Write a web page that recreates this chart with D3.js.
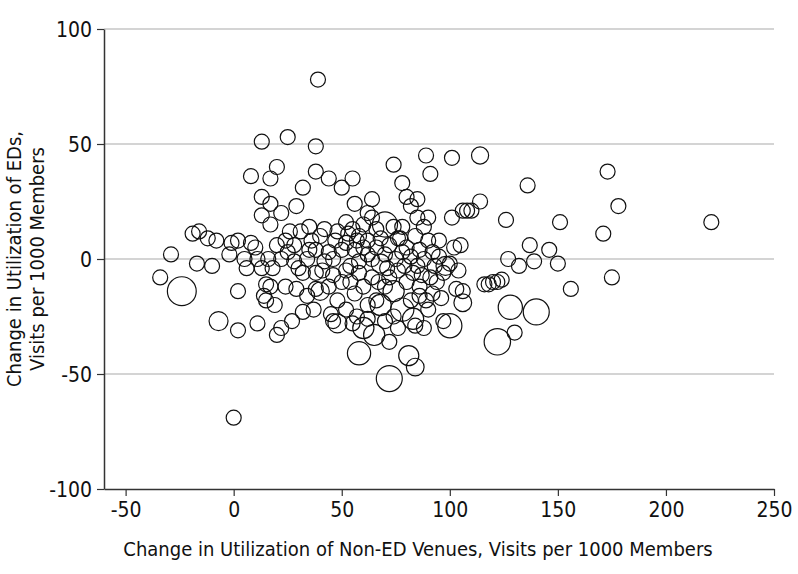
<!DOCTYPE html>
<html>
<head>
<meta charset="utf-8">
<script src="https://cdn.jsdelivr.net/npm/d3@7"></script>
<style>
  body { margin: 0; background: #fff; }
  text { font-family: "DejaVu Sans Condensed", "Liberation Sans Narrow", sans-serif; fill: #111; }
  .axis-title { font-size: 20px; }
</style>
</head>
<body>
<script>
// Define SVG area dimensions
var svgWidth = 798;
var svgHeight = 574;

var margin = { top: 29, right: 24, bottom: 85, left: 104 };
var chartWidth = svgWidth - margin.left - margin.right;
var chartHeight = svgHeight - margin.top - margin.bottom;

// axis ticks
var xTicks = [-50, 0, 50, 100, 150, 200, 250];
var yTicks = [-100, -50, 0, 50, 100];
var yGrid = [-50, 0, 50, 100];

// points as [non-ED change, ED change, relative size]
var outlierPoints = [
  [39, 78, 1], [0, -69, 1], [221, 16, 1], [173, 38, 1], [178, 23, 1],
  [171, 11, 1], [175, -8, 1], [156, -13, 1], [151, 16, 1], [150, -2, 1],
  [146, 4, 1], [139, -1, 1], [137, 6, 1], [136, 32, 1], [132, -3, 1],
  [130, -32, 1], [126, 17, 1], [127, 0, 1], [128, -21, 2.6], [140, -23, 3],
  [122, -36, 3.1], [114, 45, 1.3], [114, 25, 1], [106, 21, 1], [110, 21, 1],
  [108, 21, 1], [101, 44, 1], [101, 18, 1], [105, 6, 1], [103, -13, 1],
  [106, -19, 1.4], [106, -14, 1], [97, -27, 1], [100, -29, 2.6], [81, -42, 1.8],
  [84, -47, 1.4], [72, -52, 3], [58, -41, 2.4], [89, 45, 1], [91, 37, 1],
  [74, 41, 1], [78, 33, 1], [85, 26, 1], [82, 23, 1], [80, 27, 1],
  [64, 26, 1], [55, 35, 1], [56, 24, 1], [62, 20, 1], [44, 35, 1],
  [50, 31, 1], [38, 49, 1], [38, 38, 1], [32, 31, 1], [29, 23, 1],
  [25, 53, 1], [13, 51, 1], [20, 40, 1], [8, 36, 1], [17, 35, 1],
  [13, 27, 1], [17, 24, 1], [22, 20, 1], [13, 19, 1], [17, 15, 1]
];

var tailCluster = [
  [116, -11, 1], [118, -11, 1], [120, -10, 1], [122, -10, 1], [124, -9, 1]
];

var leftPoints = [
  [-34, -8, 1], [-24, -14, 3.7], [-29, 2, 1], [-19, 11, 1], [-16, 12, 1],
  [-12, 9, 1], [-8, 8, 1], [-17, -2, 1], [-10, -3, 1], [-7, -27, 1.6],
  [2, -31, 1], [-2, 2, 1], [-1, 7, 1], [2, 8, 1], [2, -14, 1],
  [5, 0, 1], [8, 7, 1], [10, 5, 1], [11, 0, 1], [13, -4, 1],
  [15, -11, 1], [14, -16, 1], [11, -28, 1], [20, -33, 1], [22, -30, 1],
  [27, -27, 1], [29, -13, 1], [24, -12, 1], [17, -12, 1], [20, 6, 1],
  [24, 8, 1], [28, 6, 1], [22, 0, 1], [18, -4, 1], [25, 3, 1],
  [31, 12, 1], [28, -1, 1], [32, -6, 1], [35, 4, 1], [34, -16, 1],
  [32, -23, 1], [37, -22, 1], [38, -13, 1], [40, -14, 1.5], [16, 0, 1],
  [6, -4, 1], [15, -18, 1], [19, -20, 1], [26, 12, 1], [35, 14, 1]
];

var centerPoints = [
  [45, -24, 1], [48, -28, 1.6], [46, -27, 1], [52, -22, 1], [55, -28, 1],
  [57, -25, 1], [60, -30, 2], [62, -26, 1], [65, -33, 2], [68, -20, 2],
  [70, -27, 1], [72, -36, 1], [74, -25, 1], [78, -22, 2.4], [76, -30, 1],
  [83, -26, 2], [84, -29, 1], [86, -16, 1], [89, -18, 1], [92, -15, 1],
  [94, -10, 1], [97, -6, 1], [98, -3, 1.6], [95, 1, 1], [92, 3, 1],
  [90, 8, 1], [95, 8, 1], [87, -7, 1], [85, -3, 1], [82, 1, 1],
  [80, 5, 1], [77, 9, 1], [74, 14, 1], [78, 14, 1], [84, 10, 1],
  [88, 14, 1], [70, 15, 2.8], [66, 13, 1], [62, 8, 1], [58, 10, 1],
  [55, 13, 1], [52, 7, 1], [50, 4, 1], [47, 8, 1], [44, 3, 1],
  [42, -1, 1], [41, -5, 1], [46, -7, 1], [50, -10, 1], [54, -3, 1],
  [58, -1, 1], [62, 2, 1], [66, 5, 1], [68, -2, 1.6], [64, -8, 1],
  [60, -12, 1], [56, -15, 1], [72, -8, 1], [76, -5, 1], [80, -10, 1],
  [74, -14, 2], [70, -12, 1], [66, -18, 1], [62, -20, 1], [78, 3, 1],
  [72, 6, 1], [85, 18, 1], [90, 18, 1], [60, 15, 1], [64, 18, 1],
  [52, 16, 1], [48, 12, 1], [40, 10, 1], [38, 4, 1], [42, 13, 1],
  [36, 8, 1], [30, -4, 1], [34, 0, 1], [38, -6, 1], [44, -12, 1],
  [48, -18, 1], [54, -10, 1], [58, -6, 1], [86, -12, 1], [90, -22, 1],
  [82, -18, 1], [100, -2, 1], [102, 5, 1], [96, -17, 1], [88, -30, 1],
  [104, -5, 1], [93, -3, 1], [86, 4, 1], [70, 2, 1], [56, 4, 1]
];

var extraCenter = [
  [64, 0, 1], [60, 5, 1], [68, 9, 1], [75, 0, 1], [79, -3, 1],
  [83, -6, 1], [71, -4, 1], [57, 8, 1], [52, -5, 1], [46, 0, 1],
  [67, -10, 1], [88, 0, 1], [91, -8, 1], [76, 9, 1], [53, 11, 1]
];

var allPoints = outlierPoints.concat(tailCluster, leftPoints, centerPoints, extraCenter);

var svg = d3.select("body")
  .append("svg")
  .attr("width", svgWidth)
  .attr("height", svgHeight);

var chartGroup = svg.append("g")
  .attr("transform", `translate(${margin.left}, ${margin.top})`);

var xScale = d3.scaleLinear()
  .domain([-60, 250])
  .range([0, chartWidth]);

var yScale = d3.scaleLinear()
  .domain([-100, 100])
  .range([chartHeight, 0]);

var rScale = d3.scaleSqrt()
  .domain([0, 4])
  .range([0, 15]);

// horizontal grid
chartGroup.selectAll(".grid")
  .data(yGrid)
  .enter()
  .append("line")
  .attr("x1", 0)
  .attr("x2", chartWidth)
  .attr("y1", d => yScale(d))
  .attr("y2", d => yScale(d))
  .attr("stroke", "#d4d4d4")
  .attr("stroke-width", 2);

// axes (plain hyphen for negatives, like the original)
var plain = d => String(d);
var bottomAxis = d3.axisBottom(xScale).tickValues(xTicks).tickFormat(plain)
  .tickSize(7).tickSizeOuter(0).tickPadding(6);
var leftAxis = d3.axisLeft(yScale).tickValues(yTicks).tickFormat(plain)
  .tickSize(7).tickSizeOuter(0).tickPadding(5);

var xAxisG = chartGroup.append("g")
  .attr("transform", `translate(0, ${chartHeight})`)
  .call(bottomAxis);

var yAxisG = chartGroup.append("g")
  .call(leftAxis);

[xAxisG, yAxisG].forEach(g => {
  g.attr("font-size", 21).attr("font-family", null);
  g.select(".domain").attr("stroke", "#333").attr("stroke-width", 1.5);
  g.selectAll(".tick line").attr("stroke", "#333").attr("stroke-width", 1.2);
  g.selectAll(".tick text").attr("fill", "#111").style("font-size", "21px");
});
yAxisG.selectAll(".tick text").attr("dy", "0.36em");

// bubbles
chartGroup.selectAll(".bubble")
  .data(allPoints)
  .enter()
  .append("circle")
  .attr("class", "bubble")
  .attr("cx", d => xScale(d[0]))
  .attr("cy", d => yScale(d[1]))
  .attr("r", d => rScale(d[2]))
  .attr("fill", "none")
  .attr("stroke", "#111")
  .attr("stroke-width", 1.2);

// axis titles
svg.append("text")
  .attr("class", "axis-title")
  .attr("x", 418)
  .attr("y", 556)
  .attr("text-anchor", "middle")
  .text("Change in Utilization of Non-ED Venues, Visits per 1000 Members");

var yTitle = svg.append("text")
  .attr("class", "axis-title")
  .attr("transform", "translate(0, 259) rotate(-90)")
  .attr("text-anchor", "middle");
yTitle.append("tspan").attr("x", 0).attr("y", 21).text("Change in Utilization of EDs,");
yTitle.append("tspan").attr("x", 0).attr("y", 44).text("Visits per 1000 Members");
</script>
</body>
</html>
